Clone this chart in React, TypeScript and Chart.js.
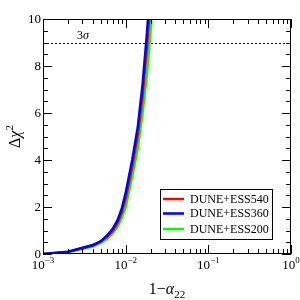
import React, { useEffect, useRef } from 'react';
import { Chart, registerables } from 'chart.js';
Chart.register(...registerables);

const seriesNames = ['DUNE+ESS540', 'DUNE+ESS360', 'DUNE+ESS200'];
const seriesColors = ['#ff0000', '#0000ff', '#00ff00'];
const xValues = [0.001, 0.002, 0.004, 0.005, 0.006, 0.007, 0.008, 0.009, 0.01, 0.012, 0.014, 0.016, 0.018, 0.02, 0.022];
const redValues = [0, 0.09, 0.36, 0.52, 0.74, 0.99, 1.33, 1.77, 2.35, 3.7, 5.05, 6.7, 8.7, 10.7, 12.8];
const blueValues = [0, 0.1, 0.38, 0.55, 0.8, 1.08, 1.45, 1.95, 2.6, 4.0, 5.4, 7.2, 9.3, 11.5, 13.8];
const greenValues = [0, 0.07, 0.32, 0.47, 0.65, 0.9, 1.18, 1.55, 2.0, 3.3, 4.5, 6.0, 7.6, 9.5, 11.5];
const yTickValues = [0, 2, 4, 6, 8, 10];
const xDecades = [-3, -2, -1, 0];
const sigmaLevel = 9;

const SERIF = '"Liberation Serif", "DejaVu Serif", serif';

type Piece = { text: string; font: string; dy: number };

function drawPieces(ctx: CanvasRenderingContext2D, pieces: Piece[], cx: number, baseline: number) {
  let total = 0;
  const widths = pieces.map((p) => {
    ctx.font = p.font;
    const w = ctx.measureText(p.text).width;
    total += w;
    return w;
  });
  let x = cx - total / 2;
  ctx.textAlign = 'left';
  ctx.textBaseline = 'alphabetic';
  pieces.forEach((p, i) => {
    ctx.font = p.font;
    ctx.fillText(p.text, x, baseline + p.dy);
    x += widths[i];
  });
}

const decorPlugin = {
  id: 'decor',
  beforeDatasetsDraw(chart: any) {
    const ctx: CanvasRenderingContext2D = chart.ctx;
    const { left, right } = chart.chartArea;
    const ys = chart.scales.y;
    const yy = Math.round(ys.getPixelForValue(sigmaLevel)) + 0.5;
    ctx.save();
    ctx.strokeStyle = '#000';
    ctx.lineWidth = 1;
    ctx.setLineDash([2, 2]);
    ctx.beginPath();
    ctx.moveTo(left, yy);
    ctx.lineTo(right, yy);
    ctx.stroke();
    ctx.setLineDash([]);
    ctx.fillStyle = '#000';
    drawPieces(ctx, [
      { text: '3', font: `12px ${SERIF}`, dy: 0 },
      { text: 'σ', font: `italic 12px ${SERIF}`, dy: 0 },
    ], 83, yy - 5);
    ctx.restore();
  },
  afterDraw(chart: any) {
    const ctx: CanvasRenderingContext2D = chart.ctx;
    const { left, right, top, bottom } = chart.chartArea;
    const xs = chart.scales.x;
    const ys = chart.scales.y;
    ctx.save();
    ctx.strokeStyle = '#000';
    ctx.fillStyle = '#000';
    ctx.lineWidth = 1;
    // frame
    ctx.strokeRect(left + 0.5, top + 0.5, right - left - 1, bottom - top - 1);
    // x ticks
    ctx.beginPath();
    xDecades.forEach((d, i) => {
      const px = Math.round(xs.getPixelForValue(Math.pow(10, d))) + 0.5;
      ctx.moveTo(px, bottom); ctx.lineTo(px, bottom - 9);
      ctx.moveTo(px, top); ctx.lineTo(px, top + 9);
      if (i < xDecades.length - 1) {
        for (let m = 2; m <= 9; m++) {
          const mx = Math.round(xs.getPixelForValue(m * Math.pow(10, d))) + 0.5;
          ctx.moveTo(mx, bottom); ctx.lineTo(mx, bottom - 5);
          ctx.moveTo(mx, top); ctx.lineTo(mx, top + 5);
        }
      }
    });
    // y ticks
    for (let v = 0; v <= 10.001; v += 0.5) {
      const py = Math.round(ys.getPixelForValue(v)) + 0.5;
      const major = Math.abs(v - Math.round(v / 2) * 2) < 1e-6;
      const len = major ? 9 : 5;
      ctx.moveTo(left, py); ctx.lineTo(left + len, py);
      ctx.moveTo(right, py); ctx.lineTo(right - len, py);
    }
    ctx.stroke();
    // y tick labels
    ctx.font = `13px ${SERIF}`;
    ctx.textAlign = 'right';
    ctx.textBaseline = 'middle';
    yTickValues.forEach((v) => {
      ctx.fillText(String(v), 41, ys.getPixelForValue(v) + 0.5);
    });
    // x tick labels
    xDecades.forEach((d) => {
      const px = xs.getPixelForValue(Math.pow(10, d));
      const exp = d < 0 ? '−' + Math.abs(d) : String(d);
      drawPieces(ctx, [
        { text: '10', font: `13px ${SERIF}`, dy: 0 },
        { text: exp, font: `9px ${SERIF}`, dy: -6 },
      ], px, 269);
    });
    // x title
    drawPieces(ctx, [
      { text: '1−', font: `16px ${SERIF}`, dy: 0 },
      { text: 'α', font: `italic 16px ${SERIF}`, dy: 0 },
      { text: '22', font: `11px ${SERIF}`, dy: 4 },
    ], (left + right) / 2, 294);
    // y title
    ctx.save();
    ctx.translate(20, (top + bottom) / 2);
    ctx.rotate(-Math.PI / 2);
    drawPieces(ctx, [
      { text: 'Δ', font: `16px ${SERIF}`, dy: 0 },
      { text: 'χ', font: `italic 16px ${SERIF}`, dy: 0 },
      { text: '2', font: `11px ${SERIF}`, dy: -7 },
    ], 0, 0);
    ctx.restore();
    // legend
    const lx = 160, ly = 189, lw = 112, lh = 50;
    ctx.fillStyle = '#fff';
    ctx.fillRect(lx, ly, lw, lh);
    ctx.strokeStyle = '#000';
    ctx.lineWidth = 1;
    ctx.strokeRect(lx + 0.5, ly + 0.5, lw, lh);
    const rowYs = [199, 213.5, 229];
    seriesNames.forEach((name, i) => {
      ctx.strokeStyle = seriesColors[i];
      ctx.lineWidth = 2.5;
      ctx.beginPath();
      ctx.moveTo(163, rowYs[i]);
      ctx.lineTo(184, rowYs[i]);
      ctx.stroke();
      ctx.fillStyle = '#000';
      ctx.font = `12px ${SERIF}`;
      ctx.textAlign = 'left';
      ctx.textBaseline = 'middle';
      ctx.fillText(name, 190, rowYs[i] + 0.5);
    });
    ctx.restore();
  },
};

export default function App() {
  const ref = useRef<HTMLCanvasElement | null>(null);
  useEffect(() => {
    if (!ref.current) return;
    const valuesList = [redValues, blueValues, greenValues];
    const chart = new Chart(ref.current, {
      type: 'line',
      data: {
        datasets: seriesNames.map((name, i) => ({
          label: name,
          data: xValues.map((x, j) => ({ x, y: valuesList[i][j] })),
          borderColor: seriesColors[i],
          backgroundColor: seriesColors[i],
          borderWidth: 2.5,
          pointRadius: 0,
          tension: 0,
          fill: false,
          order: i === 1 ? 0 : i === 0 ? 1 : 2,
        })),
      },
      options: {
        responsive: false,
        animation: false,
        layout: { padding: { left: 43, top: 19, right: 9, bottom: 46 } },
        plugins: { legend: { display: false }, tooltip: { enabled: false } },
        scales: {
          x: { type: 'logarithmic', min: 0.001, max: 1, display: false },
          y: { type: 'linear', min: 0, max: 10, display: false },
        },
      },
      plugins: [decorPlugin],
    } as any);
    return () => chart.destroy();
  }, []);
  return (
    <div style={{ position: 'fixed', left: 0, top: 0, width: 300, height: 300, background: '#fff' }}>
      <canvas ref={ref} width={300} height={300} />
    </div>
  );
}
